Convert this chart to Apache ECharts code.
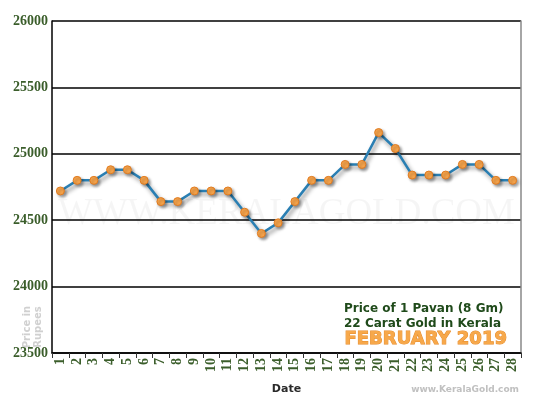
<!DOCTYPE html>
<html>
<head>
<meta charset="utf-8">
<script src="https://cdn.jsdelivr.net/npm/echarts@6/dist/echarts.min.js"></script>
<style>
  html, body { margin: 0; padding: 0; background: #fff; }
  #chart { width: 550px; height: 400px; }
</style>
</head>
<body>
<div id="chart"></div>
<script>
// price of 1 pavan (8 gm), 22 carat, Kerala - Feb 2019
const days = [
  "1", "2", "3", "4", "5", "6", "7", "8", "9", "10", "11", "12", "13", "14",
  "15", "16", "17", "18", "19", "20", "21", "22", "23", "24", "25", "26", "27", "28",
];
const prices = [
  24720, 24800, 24800, 24880, 24880, 24800, 24640, 24640, 24720, 24720,
  24720, 24560, 24400, 24480, 24640, 24800, 24800, 24920, 24920, 25160,
  25040, 24840, 24840, 24840, 24920, 24920, 24800, 24800,
];
const yTicks = [23500, 24000, 24500, 25000, 25500, 26000];

const green = "#3b5e2b";

const chart = echarts.init(document.getElementById("chart"));

let options = {
  animation: false,
  grid: { left: 52, right: 29, top: 21, bottom: 41 },
  xAxis: {
    type: "category",
    data: days,
    boundaryGap: true,
    name: "Date",
    nameLocation: "middle",
    nameGap: 31,
    nameTextStyle: {
      fontFamily: "DejaVu Sans",
      fontWeight: "bold",
      fontSize: 11,
      color: "#2a2a2a",
    },
    axisLine: { lineStyle: { color: "#000", width: 1.5 } },
    axisTick: { show: true, interval: 0, length: 5, lineStyle: { color: "#333" } },
    axisLabel: {
      interval: 0,
      rotate: 90,
      margin: 5,
      fontFamily: "Liberation Serif",
      fontWeight: "bold",
      fontSize: 14,
      color: green,
    },
  },
  yAxis: [
    {
      type: "value",
      min: yTicks[0],
      max: yTicks[yTicks.length - 1],
      interval: 500,
      axisLine: { show: true, lineStyle: { color: "#000", width: 1.5 } },
      axisTick: { show: false },
      axisLabel: {
        margin: 4,
        fontFamily: "Liberation Serif",
        fontWeight: "bold",
        fontSize: 14,
        color: green,
        formatter: (v) => String(v),
      },
      splitLine: { lineStyle: { color: "#000", width: 1.5 } },
    },
    {
      type: "value",
      position: "right",
      min: yTicks[0],
      max: yTicks[yTicks.length - 1],
      interval: 500,
      axisLine: { show: true, lineStyle: { color: "#888", width: 1.5 } },
      axisTick: { show: false },
      axisLabel: { show: false },
      splitLine: { show: false },
    },
  ],
  graphic: [
    {
      type: "text",
      left: 58,
      top: 196,
      z: 0,
      style: {
        text: "WWW.KERALAGOLD.COM",
        font: "37px 'Liberation Serif'",
        fill: "rgba(0,0,0,0.04)",
      },
    },
    {
      type: "text",
      x: 33,
      y: 327,
      rotation: Math.PI / 2,
      style: {
        text: "Price in\nRupees",
        font: "bold 10px 'DejaVu Sans'",
        fill: "#d0d0d0",
        align: "center",
        verticalAlign: "middle",
        lineHeight: 11,
      },
    },
    {
      type: "text",
      left: 344,
      top: 301,
      style: {
        text: "Price of 1 Pavan (8 Gm)\n22 Carat Gold in Kerala",
        font: "bold 12px 'DejaVu Sans'",
        fill: "#1f4a1a",
        lineHeight: 15,
      },
    },
    {
      type: "text",
      left: 344,
      top: 330,
      style: {
        text: "FEBRUARY 2019",
        font: "bold 18px 'DejaVu Sans'",
        fill: "#f7a84a",
        stroke: "#e58a2a",
        lineWidth: 1,
      },
    },
    {
      type: "text",
      right: 31,
      top: 385,
      style: {
        text: "www.KeralaGold.com",
        font: "bold 9px 'DejaVu Sans'",
        fill: "#c0c0c0",
      },
    },
  ],
  series: [
    {
      type: "line",
      data: prices,
      symbol: "circle",
      symbolSize: 8,
      lineStyle: {
        color: "#2a7fb3",
        width: 2.5,
        shadowColor: "rgba(0,0,0,0.45)",
        shadowBlur: 4,
        shadowOffsetX: 2,
        shadowOffsetY: 3,
      },
      itemStyle: {
        color: "#f8a54c",
        borderColor: "#e07b20",
        borderWidth: 1,
        shadowColor: "rgba(0,0,0,0.35)",
        shadowBlur: 3,
        shadowOffsetX: 2,
        shadowOffsetY: 2,
      },
    },
  ],
};

chart.setOption(options);
</script>
</body>
</html>
